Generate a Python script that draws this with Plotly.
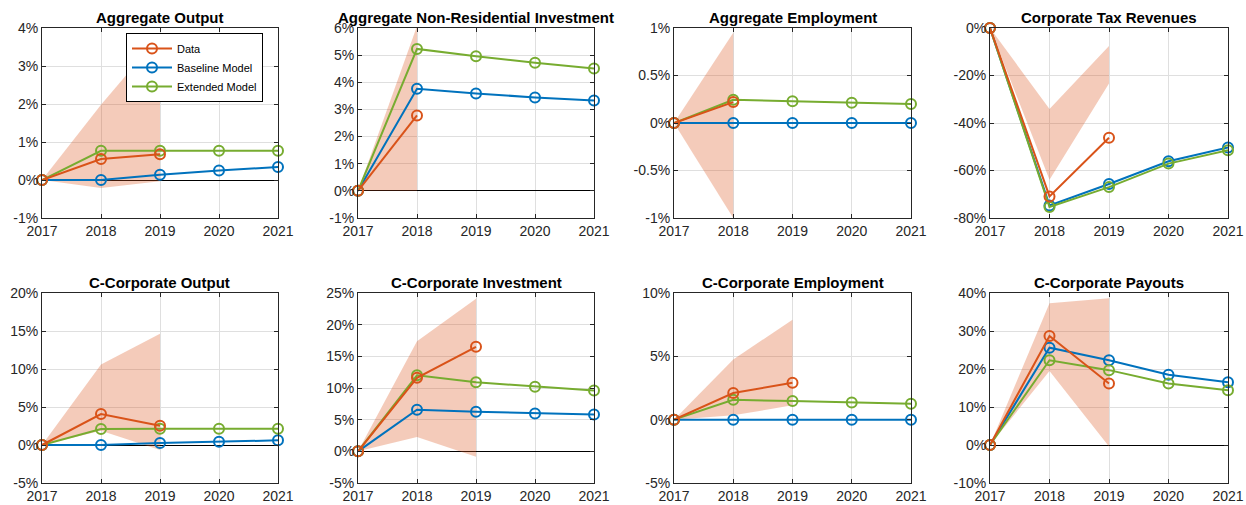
import plotly.graph_objects as go

years = [2017, 2018, 2019, 2020, 2021]
x_ticktext = ["2017", "2018", "2019", "2020", "2021"]

titles = ["Aggregate Output", "Aggregate Non-Residential Investment", "Aggregate Employment",
          "Corporate Tax Revenues", "C-Corporate Output", "C-Corporate Investment",
          "C-Corporate Employment", "C-Corporate Payouts"]
series_names = ["Data", "Baseline Model", "Extended Model"]

# Panel 1: Aggregate Output (%)
agg_output_data = [0, 0.55, 0.68]
agg_output_base = [0, 0.0, 0.14, 0.25, 0.34]
agg_output_ext = [0, 0.77, 0.77, 0.77, 0.77]
agg_output_band_hi = [0, 1.98, 3.8]
agg_output_band_lo = [0, -0.21, -0.03]
agg_output_yticks = [-1, 0, 1, 2, 3, 4]
agg_output_yticktext = ["-1%", "0%", "1%", "2%", "3%", "4%"]

# Panel 2: Aggregate Non-Residential Investment
nri_data = [0, 2.78]
nri_base = [0, 3.76, 3.59, 3.44, 3.33]
nri_ext = [0, 5.23, 4.96, 4.72, 4.51]
nri_band_hi = [0, 6.07]
nri_band_lo = [0, 0.0]
nri_yticks = [-1, 0, 1, 2, 3, 4, 5, 6]
nri_yticktext = ["-1%", "0%", "1%", "2%", "3%", "4%", "5%", "6%"]

# Panel 3: Aggregate Employment
emp_data = [0, 0.22]
emp_base = [0, 0, 0, 0, 0]
emp_ext = [0, 0.245, 0.228, 0.214, 0.2]
emp_band_hi = [0, 0.95]
emp_band_lo = [0, -1.0]
emp_yticks = [-1, -0.5, 0, 0.5, 1]
emp_yticktext = ["-1%", "-0.5%", "0%", "0.5%", "1%"]

# Panel 4: Corporate Tax Revenues
tax_data = [0, -70.9, -46.2]
tax_base = [0, -74.7, -65.7, -56.1, -50.3]
tax_ext = [0, -75.4, -67.0, -57.1, -51.5]
tax_band_hi = [0, -34.1, -7.6]
tax_band_lo = [0, -63.9, -23.4]
tax_yticks = [-80, -60, -40, -20, 0]
tax_yticktext = ["-80%", "-60%", "-40%", "-20%", "0%"]

# Panel 5: C-Corporate Output
cout_data = [0, 4.07, 2.53]
cout_base = [0, 0.0, 0.26, 0.44, 0.61]
cout_ext = [0, 2.1, 2.15, 2.15, 2.15]
cout_band_hi = [0, 10.58, 14.64]
cout_band_lo = [0, 1.88, -0.66]
cout_yticks = [-5, 0, 5, 10, 15, 20]
cout_yticktext = ["-5%", "0%", "5%", "10%", "15%", "20%"]

# Panel 6: C-Corporate Investment
cinv_data = [0, 11.6, 16.5]
cinv_base = [0, 6.56, 6.24, 5.98, 5.82]
cinv_ext = [0, 12.0, 10.9, 10.2, 9.6]
cinv_band_hi = [0, 17.4, 24.1]
cinv_band_lo = [0, 2.26, -0.84]
cinv_yticks = [-5, 0, 5, 10, 15, 20, 25]
cinv_yticktext = ["-5%", "0%", "5%", "10%", "15%", "20%", "25%"]

# Panel 7: C-Corporate Employment
cemp_data = [0, 2.1, 2.91]
cemp_base = [0, 0, 0, 0, 0]
cemp_ext = [0, 1.57, 1.47, 1.36, 1.26]
cemp_band_hi = [0, 4.75, 7.89]
cemp_band_lo = [0, 0.34, 1.13]
cemp_yticks = [-5, 0, 5, 10]
cemp_yticktext = ["-5%", "0%", "5%", "10%"]

# Panel 8: C-Corporate Payouts
cpay_data = [0, 28.7, 16.2]
cpay_base = [0, 25.6, 22.3, 18.5, 16.5]
cpay_ext = [0, 22.3, 19.7, 16.2, 14.4]
cpay_band_hi = [0, 37.3, 38.6]
cpay_band_lo = [0, 19.5, -0.4]
cpay_yticks = [-10, 0, 10, 20, 30, 40]
cpay_yticktext = ["-10%", "0%", "10%", "20%", "30%", "40%"]

panels = [
    (agg_output_data, agg_output_base, agg_output_ext, agg_output_band_hi, agg_output_band_lo, agg_output_yticks, agg_output_yticktext),
    (nri_data, nri_base, nri_ext, nri_band_hi, nri_band_lo, nri_yticks, nri_yticktext),
    (emp_data, emp_base, emp_ext, emp_band_hi, emp_band_lo, emp_yticks, emp_yticktext),
    (tax_data, tax_base, tax_ext, tax_band_hi, tax_band_lo, tax_yticks, tax_yticktext),
    (cout_data, cout_base, cout_ext, cout_band_hi, cout_band_lo, cout_yticks, cout_yticktext),
    (cinv_data, cinv_base, cinv_ext, cinv_band_hi, cinv_band_lo, cinv_yticks, cinv_yticktext),
    (cemp_data, cemp_base, cemp_ext, cemp_band_hi, cemp_band_lo, cemp_yticks, cemp_yticktext),
    (cpay_data, cpay_base, cpay_ext, cpay_band_hi, cpay_band_lo, cpay_yticks, cpay_yticktext),
]

W, H = 1246, 505
col_px = [(42, 278), (358, 594), (674, 911), (990, 1228)]
row_px = [(28, 218), (293, 483)]


def px(xp):
    return xp / W


def py(yp):
    return 1 - yp / H


C_DATA = "#D95319"
C_BASE = "#0072BD"
C_EXT = "#77AC30"
BAND = "rgba(217,83,25,0.3)"
AX = "#262626"
GRID = "#DFDFDF"
FONT = "Liberation Sans, Arial, Helvetica, sans-serif"

fig = go.Figure()
layout = dict(
    width=W, height=H, margin=dict(l=0, r=0, t=0, b=0, autoexpand=False),
    paper_bgcolor="white", plot_bgcolor="white",
    font=dict(family=FONT, size=14, color=AX),
    showlegend=True,
    legend=dict(x=px(126), y=py(33), xanchor="left", yanchor="top",
                bordercolor="black", borderwidth=1, bgcolor="white",
                font=dict(size=11, color="black"), tracegroupgap=0,
                itemwidth=40, traceorder="normal"),
)
annotations = []

for i, (d, b, e, hi, lo, yt, ytt) in enumerate(panels):
    r, c = divmod(i, 4)
    n = i + 1
    xa = "x" if n == 1 else f"x{n}"
    ya = "y" if n == 1 else f"y{n}"
    x0, x1 = col_px[c]
    y0, y1 = row_px[r]
    layout["xaxis" if n == 1 else f"xaxis{n}"] = dict(
        domain=[px(x0), px(x1)], anchor=ya, range=[years[0], years[-1]],
        tickvals=years, ticktext=x_ticktext, showgrid=True, gridcolor=GRID,
        showline=True, linecolor=AX, linewidth=1, mirror="ticks",
        ticks="inside", ticklen=4, tickcolor=AX, zeroline=False, automargin=False,
        ticklabeloverflow="allow", tickfont=dict(size=14, color=AX))
    layout["yaxis" if n == 1 else f"yaxis{n}"] = dict(
        domain=[py(y1), py(y0)], anchor=xa, range=[yt[0], yt[-1]],
        tickvals=yt, ticktext=ytt, showgrid=True, gridcolor=GRID,
        showline=True, linecolor=AX, linewidth=1, mirror="ticks",
        ticks="inside", ticklen=4, tickcolor=AX, automargin=False,
        zeroline=True, zerolinecolor="black", zerolinewidth=1,
        ticklabeloverflow="allow", tickfont=dict(size=14, color=AX))
    # confidence band
    by = years[:len(hi)]
    fig.add_trace(go.Scatter(x=by + by[::-1], y=hi + lo[::-1], fill="toself",
                             fillcolor=BAND, line=dict(width=0), mode="lines",
                             hoverinfo="skip", showlegend=False, xaxis=xa, yaxis=ya))
    show = (i == 0)
    for vals, name, col, rank in [(b, series_names[1], C_BASE, 2),
                                  (e, series_names[2], C_EXT, 3),
                                  (d, series_names[0], C_DATA, 1)]:
        fig.add_trace(go.Scatter(
            x=years[:len(vals)], y=vals, mode="lines+markers", name=name,
            line=dict(color=col, width=2),
            marker=dict(symbol="circle-open", size=10, color=col, line=dict(width=2, color=col)),
            cliponaxis=False, showlegend=show, legendrank=rank, xaxis=xa, yaxis=ya))
    annotations.append(dict(
        text=f"<b>{titles[i]}</b>", x=px((x0 + x1) / 2), y=py(y0 - 11),
        xref="paper", yref="paper", xanchor="center", yanchor="middle",
        showarrow=False, font=dict(size=15, color="black", family=FONT)))

layout["annotations"] = annotations
fig.update_layout(**layout)
fig.write_html(
    "out.html",
    config={"displayModeBar": False},
    post_script="document.body.style.margin='0';document.body.style.overflow='hidden';",
)
